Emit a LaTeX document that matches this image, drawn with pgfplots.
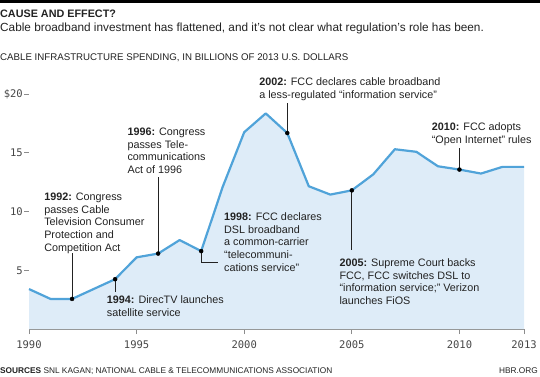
\documentclass[border=0pt]{standalone}
\usepackage{fontspec}
\setmainfont{Liberation Sans}
\newfontfamily\tickfont{DejaVu Sans Mono}
\usepackage{pgfplots}
\pgfplotsset{compat=1.18}
\definecolor{linec}{RGB}{80,163,217}
\definecolor{fillc}{RGB}{222,236,248}
\definecolor{txt}{RGB}{34,34,34}
\definecolor{tickc}{RGB}{70,70,70}
\definecolor{axc}{RGB}{140,140,140}
\newcommand{\annfont}{\fontsize{10.8}{12.8}\selectfont}
\pgfplotstableread{
year val
1990 3.4
1991 2.56
1992 2.56
1993 3.4
1994 4.24
1995 6.1
1996 6.42
1997 7.57
1998 6.63
1999 12.1
2000 16.75
2001 18.35
2002 16.68
2003 12.15
2004 11.44
2005 11.8
2006 13.17
2007 15.3
2008 15.08
2009 13.85
2010 13.57
2011 13.23
2012 13.8
2013 13.8
}\spend
\begin{document}
\begin{tikzpicture}
\path[use as bounding box] (0pt,0pt) rectangle (540pt,-376pt);
\fill[black] (0pt,0pt) rectangle (540pt,-2.5pt);
\node[anchor=base west, inner sep=0pt, font=\bfseries\fontsize{10.8}{13}\selectfont, text=txt] at (0pt,-17.3pt) {CAUSE AND EFFECT?};
\node[anchor=base west, inner sep=0pt, font=\fontsize{11.8}{13}\selectfont, text=txt] at (0pt,-31.5pt) {Cable broadband investment has flattened, and it’s not clear what regulation’s role has been.};
\node[anchor=base west, inner sep=0pt, font=\fontsize{9.7}{11}\selectfont, text=txt] at (0pt,-60pt) {CABLE INFRASTRUCTURE SPENDING, IN BILLIONS OF 2013 U.S. DOLLARS};
\node[anchor=base west, inner sep=0pt, font=\fontsize{8.3}{10}\selectfont, text=txt] at (0pt,-373.3pt) {\textbf{SOURCES} SNL KAGAN; NATIONAL CABLE \& TELECOMMUNICATIONS ASSOCIATION};
\node[anchor=base east, inner sep=0pt, font=\fontsize{8.3}{10}\selectfont, text=txt] at (538pt,-373.3pt) {HBR.ORG};
\begin{axis}[
  at={(29pt,-329pt)}, anchor=south west,
  scale only axis, width=495pt, height=235pt,
  xmin=1990, xmax=2013, ymin=0, ymax=20,
  clip=false,
  axis x line*=bottom, axis y line*=left,
  x axis line style={draw=axc, line width=1.3pt, -},
  y axis line style={draw=none},
  xtick={1990,1995,2000,2005,2010,2013},
  xticklabels={1990,1995,2000,2005,2010,2013},
  ytick={5,10,15,20},
  yticklabels={5,10,15,\$20},
  tick align=outside,
  major tick length=5pt,
  tick style={draw=axc, line width=0.9pt},
  tick label style={font=\tickfont\fontsize{10.5}{12}\selectfont, text=tickc},
  xticklabel style={inner sep=0pt, yshift=-6pt},
  yticklabel style={inner sep=0pt, xshift=-1pt},
]
\addplot[fill=fillc, draw=none] table[x=year, y=val] {\spend} \closedcycle;
\addplot[color=linec, line width=2.2pt, line join=round] table[x=year, y=val] {\spend};
\begin{scope}[draw=txt, line width=0.8pt]
\draw (1992,2.56) -- (1992,6.47);
\draw (1994,4.24) -- (1994,3.15);
\draw (1996,6.42) -- (1996,12.94);
\draw (1998,6.63) -- (1998,5.66) -- (1998.80,5.66);
\draw (2002,16.68) -- (2002,19.23);
\draw (2005,11.8) -- (2005,6.72);
\draw (2010,13.57) -- (2010,15.4);
\end{scope}
\addplot[only marks, mark=*, mark size=2pt, color=black] coordinates {(1992,2.56) (1994,4.24) (1996,6.42) (1998,6.63) (2002,16.68) (2005,11.8) (2010,13.57)};
\begin{scope}[every node/.style={anchor=base west, inner sep=0pt, font=\annfont, text=txt}]
\node at (1990.70,10.95) {\begin{tabular}[t]{@{}l@{}}\textbf{1992:} Congress\\passes Cable\\Television Consumer\\Protection and\\Competition Act\end{tabular}};
\node at (1993.61,2.15) {\begin{tabular}[t]{@{}l@{}}\textbf{1994:} DirecTV launches\\satellite service\end{tabular}};
\node at (1994.57,16.49) {\begin{tabular}[t]{@{}l@{}}\textbf{1996:} Congress\\passes Tele-\\communications\\Act of 1996\end{tabular}};
\node at (1999.06,9.25) {\begin{tabular}[t]{@{}l@{}}\textbf{1998:} FCC declares\\DSL broadband\\a common-carrier\\“telecommuni-\\cations service”\end{tabular}};
\node at (2000.69,20.71) {\begin{tabular}[t]{@{}l@{}}\textbf{2002:} FCC declares cable broadband\\a less-regulated “information service”\end{tabular}};
\node at (2004.42,5.34) {\begin{tabular}[t]{@{}l@{}}\textbf{2005:} Supreme Court backs\\FCC, FCC switches DSL to\\“information service;” Verizon\\launches FiOS\end{tabular}};
\node at (2008.71,16.88) {\begin{tabular}[t]{@{}l@{}}\textbf{2010:} FCC adopts\\“Open Internet” rules\end{tabular}};
\end{scope}
\end{axis}
\end{tikzpicture}
\end{document}
